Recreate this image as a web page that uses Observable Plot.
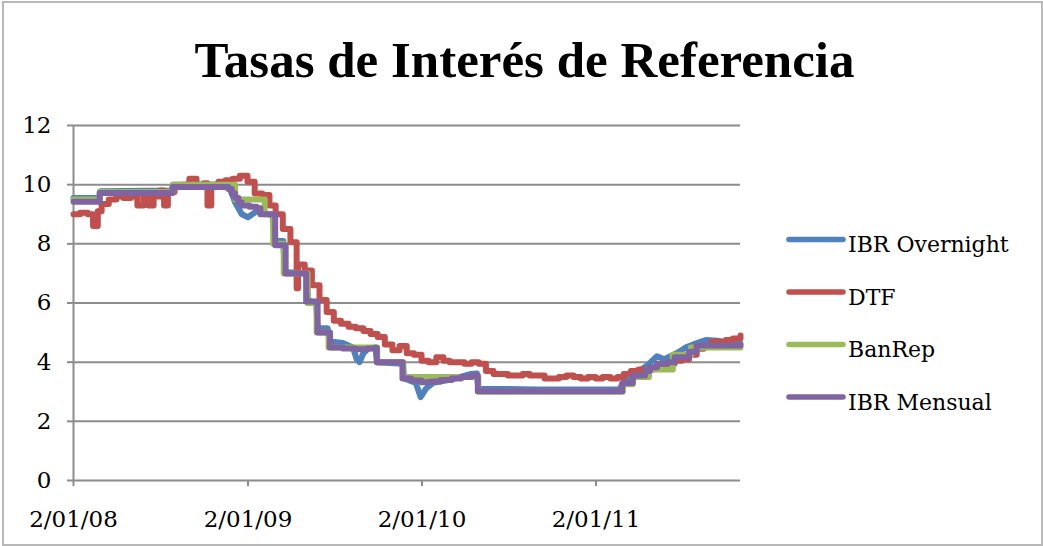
<!DOCTYPE html>
<html><head><meta charset="utf-8">
<script src="https://cdn.jsdelivr.net/npm/d3@7"></script>
<script src="https://cdn.jsdelivr.net/npm/@observablehq/plot@0.6"></script>
<style>
html,body{margin:0;padding:0;background:#fff;}
#wrap{position:relative;width:1043px;height:546px;overflow:hidden;background:#fff;}
#frame{position:absolute;left:2px;top:1px;width:1041px;height:545px;border:2px solid #b8b8b8;box-sizing:border-box;}
#title{position:absolute;left:3px;width:1043px;top:35px;text-align:center;font:bold 51px "Liberation Serif";line-height:51px;color:#000;white-space:nowrap;}
#chart{position:absolute;left:0;top:0;}
#legend{position:absolute;left:0;top:0;}
</style></head>
<body><div id="wrap"><div id="frame"></div><div id="title">Tasas de Interés de Referencia</div><div id="chart"></div><svg id="legend" width="1043" height="546"></svg></div>
<script>
// ---- Data ----
const series = ["IBR Overnight", "DTF", "BanRep", "IBR Mensual"];
const colors = ["#4F81BD", "#C0504D", "#9BBB59", "#8064A2"];
const ticksX = ["2008-01-02", "2009-01-02", "2010-01-02", "2011-01-02"];
const ticksXLabels = ["2/01/08", "2/01/09", "2/01/10", "2/01/11"];
const ticksY = [0, 2, 4, 6, 8, 10, 12];

const fechasIBRO = ["2008-01-02","2008-02-25","2008-02-28","2008-07-26","2008-07-29","2008-11-22","2008-12-06","2008-12-20","2009-01-02","2009-01-20","2009-02-05","2009-02-23","2009-02-26","2009-03-17","2009-03-20","2009-05-05","2009-05-08","2009-05-25","2009-05-28","2009-06-18","2009-06-22","2009-07-20","2009-08-10","2009-08-18","2009-08-24","2009-09-01","2009-09-10","2009-09-26","2009-09-30","2009-11-22","2009-11-26","2009-12-20","2009-12-30","2010-01-10","2010-01-25","2010-03-01","2010-04-15","2010-04-27","2010-04-30","2010-09-01","2011-02-20","2011-02-28","2011-03-25","2011-04-20","2011-05-10","2011-05-25","2011-06-20","2011-07-10","2011-07-25","2011-08-20","2011-09-15","2011-10-01","2011-11-01"];
const ibrOvernight = [9.55,9.55,9.78,9.8,10.0,10.0,9.4,9.0,8.9,9.1,9.05,8.95,8.1,8.1,7.05,7.0,6.1,6.0,5.15,5.15,4.7,4.65,4.5,4.1,4.0,4.3,4.45,4.5,4.0,3.95,3.45,3.3,2.82,3.1,3.3,3.4,3.6,3.62,3.1,3.08,3.08,3.3,3.6,3.9,4.2,4.1,4.3,4.5,4.6,4.75,4.72,4.65,4.62];

const fechasDTF = ["2008-01-02","2008-01-16","2008-02-01","2008-02-12","2008-02-22","2008-03-01","2008-03-16","2008-04-01","2008-04-16","2008-05-01","2008-05-15","2008-05-28","2008-06-07","2008-06-18","2008-07-01","2008-07-10","2008-07-18","2008-08-01","2008-08-16","2008-09-01","2008-09-16","2008-10-01","2008-10-09","2008-10-17","2008-11-01","2008-11-16","2008-12-01","2008-12-16","2009-01-01","2009-01-16","2009-02-01","2009-02-16","2009-03-01","2009-03-16","2009-04-01","2009-04-14","2009-04-17","2009-05-01","2009-05-16","2009-06-01","2009-06-16","2009-07-01","2009-07-16","2009-08-01","2009-08-16","2009-09-01","2009-09-16","2009-10-01","2009-10-16","2009-11-01","2009-11-16","2009-12-01","2009-12-16","2010-01-01","2010-01-16","2010-02-01","2010-02-16","2010-03-01","2010-03-16","2010-04-01","2010-04-16","2010-05-01","2010-05-16","2010-06-01","2010-06-16","2010-07-01","2010-07-16","2010-08-01","2010-08-16","2010-09-01","2010-09-16","2010-10-01","2010-10-16","2010-11-01","2010-11-16","2010-12-01","2010-12-16","2011-01-01","2011-01-16","2011-02-01","2011-02-16","2011-03-01","2011-03-16","2011-04-01","2011-04-16","2011-05-01","2011-05-16","2011-06-01","2011-06-16","2011-07-01","2011-07-16","2011-08-01","2011-08-16","2011-09-01","2011-09-16","2011-10-01","2011-10-16","2011-11-01"];
const dtf = [9.0,9.05,9.0,8.6,9.1,9.35,9.5,9.6,9.55,9.6,9.3,9.6,9.3,9.6,9.8,9.3,9.75,9.95,10.0,10.2,10.0,10.05,9.3,10.0,10.1,10.15,10.2,10.3,10.1,9.7,9.65,9.3,9.0,8.5,8.05,6.5,7.3,7.1,6.6,6.1,5.7,5.4,5.3,5.2,5.15,5.05,4.95,4.85,4.6,4.4,4.55,4.3,4.25,4.05,4.0,4.17,4.05,4.0,4.0,3.95,4.0,3.95,3.7,3.6,3.6,3.55,3.55,3.6,3.55,3.55,3.45,3.45,3.5,3.55,3.5,3.45,3.5,3.45,3.5,3.45,3.5,3.6,3.7,3.75,3.75,3.8,3.85,3.95,4.05,4.1,4.25,4.45,4.55,4.7,4.7,4.75,4.8,4.9];

const fechasBanRep = ["2008-01-02","2008-02-26","2008-07-28","2008-12-06","2009-02-06","2009-02-24","2009-03-18","2009-05-07","2009-05-26","2009-06-20","2009-09-30","2009-11-24","2010-04-30","2011-02-27","2011-03-20","2011-04-23","2011-06-12","2011-07-20","2011-11-01"];
const banRep = [9.5,9.75,10.0,9.5,9.0,8.0,7.0,6.0,5.0,4.5,4.0,3.5,3.0,3.25,3.5,3.75,4.25,4.5,4.5];

const fechasIBRM = ["2008-01-02","2008-02-26","2008-07-28","2008-11-22","2008-11-29","2008-12-06","2008-12-13","2008-12-20","2009-01-05","2009-01-20","2009-01-28","2009-02-28","2009-03-22","2009-05-04","2009-05-28","2009-06-23","2009-07-20","2009-08-15","2009-09-10","2009-09-25","2009-09-29","2009-11-22","2009-12-10","2010-01-01","2010-01-20","2010-02-10","2010-03-05","2010-03-25","2010-04-15","2010-04-29","2010-11-01","2011-02-26","2011-03-20","2011-04-15","2011-04-25","2011-05-10","2011-06-01","2011-06-16","2011-07-16","2011-08-01","2011-11-01"];
const ibrMensual = [9.42,9.72,9.92,9.85,9.7,9.55,9.4,9.3,9.25,9.2,9.0,7.95,7.0,6.05,5.0,4.5,4.46,4.44,4.46,4.48,4.0,3.45,3.38,3.32,3.35,3.4,3.45,3.5,3.55,3.02,3.02,3.3,3.55,3.7,3.83,3.95,4.0,4.17,4.35,4.56,4.56];

// ---- Build table ----
const toRows = (name, fechas, vals) => fechas.map((f, i) => ({serie: name, fecha: new Date(f + "T00:00:00Z"), valor: vals[i]}));
const rowsIBRO = toRows(series[0], fechasIBRO, ibrOvernight);
const rowsDTF = toRows(series[1], fechasDTF, dtf);
const rowsBR = toRows(series[2], fechasBanRep, banRep);
const rowsIBRM = toRows(series[3], fechasIBRM, ibrMensual);
const tickDates = ticksX.map(d => new Date(d + "T00:00:00Z"));
const fmt = new Map(tickDates.map((d, i) => [+d, ticksXLabels[i]]));

const lineOpts = (i, curve) => ({x: "fecha", y: "valor", stroke: colors[i], strokeWidth: 6, curve, strokeLinejoin: "round", strokeLinecap: "round"});

const chart = Plot.plot({
  width: 760, height: 546,
  marginLeft: 73, marginRight: 20, marginTop: 125, marginBottom: 66,
  style: {fontFamily: "DejaVu Serif", fontSize: "23px", color: "#000", background: "transparent", overflow: "visible"},
  x: {type: "utc", domain: [new Date("2008-01-02T00:00:00Z"), new Date("2011-11-01T00:00:00Z")]},
  y: {domain: [0, 12]},
  marks: [
    Plot.gridY(ticksY.filter(d => d > 0), {stroke: "#8c8c8c", strokeOpacity: 1, strokeWidth: 2}),
    Plot.ruleY([0], {stroke: "#8c8c8c", strokeWidth: 2}),
    Plot.ruleX([tickDates[0]], {stroke: "#8c8c8c", strokeWidth: 2}),
    Plot.axisY({ticks: ticksY, tickSize: 6, tickPadding: 16, stroke: "#8c8c8c", strokeWidth: 2, label: null, fill: "#000"}),
    Plot.axisX({ticks: tickDates, tickFormat: d => fmt.get(+d), tickSize: 6, tickPadding: 24, stroke: "#8c8c8c", strokeWidth: 2, label: null, fill: "#000"}),
    Plot.line(rowsIBRO, lineOpts(0, "linear")),
    Plot.line(rowsDTF, lineOpts(1, "step-after")),
    Plot.line(rowsBR, lineOpts(2, "step-after")),
    Plot.line(rowsIBRM, lineOpts(3, "step-after"))
  ]
});
document.getElementById("chart").appendChild(chart);

// ---- Legend ----
const leg = d3.select("#legend");
const rowY = [239.5, 292, 344.5, 397];
series.forEach((s, i) => {
  leg.append("line").attr("x1", 789).attr("x2", 843).attr("y1", rowY[i]).attr("y2", rowY[i])
    .attr("stroke", colors[i]).attr("stroke-width", 5.5).attr("stroke-linecap", "round");
  leg.append("text").attr("x", 848).attr("y", rowY[i] + 12.5).text(s)
    .attr("font-family", "DejaVu Serif").attr("font-size", 22).attr("fill", "#000");
});
</script></body></html>
